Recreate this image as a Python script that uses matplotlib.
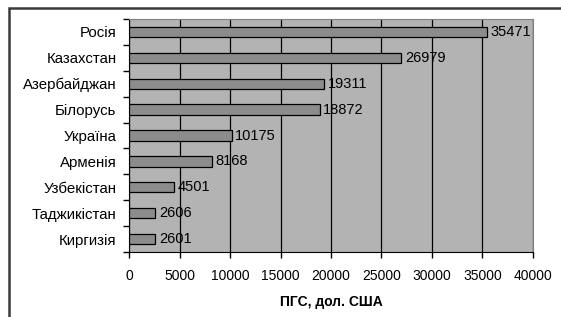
import matplotlib.pyplot as plt
import matplotlib.patches as mpatches
import numpy as np

plt.rcParams['font.family'] = ['Liberation Sans', 'DejaVu Sans']

countries = ['Росія', 'Казахстан', 'Азербайджан', 'Білорусь', 'Україна',
             'Арменія', 'Узбекістан', 'Таджикістан', 'Киргизія']
values = [35471, 26979, 19311, 18872, 10175, 8168, 4501, 2606, 2601]
xticks = [0, 5000, 10000, 15000, 20000, 25000, 30000, 35000, 40000]

fig = plt.figure(figsize=(5.61, 3.17), dpi=100)
ax = fig.add_axes([0.23, 0.205, 0.72, 0.735])

# outer frame (cut by the image edge on the right and bottom)
frame = mpatches.Rectangle((9 / 561, -0.1), 1.2, 1 - 8 / 317 + 0.1,
                           transform=fig.transFigure, fill=False,
                           edgecolor='#3a3a3a', linewidth=1.8, zorder=0)
fig.patches.append(frame)

y = np.arange(len(countries))[::-1]
ax.set_facecolor('#b3b3b3')
ax.barh(y, values, height=0.4, color='#8c8c8c', edgecolor='black',
        linewidth=0.9, zorder=3)
for yi, v in zip(y, values):
    ax.text(v + 350, yi, str(v), va='center', ha='left', fontsize=10.5, zorder=0.3)

ax.set_xlim(0, 40000)
ax.set_ylim(-0.5, len(countries) - 0.5)
ax.set_xticks(xticks)
ax.set_xticklabels([str(t) for t in xticks], fontsize=10)
ax.set_yticks(y)
ax.set_yticklabels(countries, fontsize=10.8)
ax.set_yticks(np.arange(len(countries) + 1) - 0.5, minor=True)
ax.tick_params(axis='y', which='major', length=0, pad=9)
ax.tick_params(axis='y', which='minor', length=4, width=1)
ax.tick_params(axis='x', length=4, width=1, pad=8)
ax.grid(axis='x', color='black', linewidth=0.9, zorder=0.5)
ax.set_axisbelow(True)

for s in ['top', 'right']:
    ax.spines[s].set_color('#808080')
for s in ['left', 'bottom']:
    ax.spines[s].set_color('black')

ax.set_xlabel('ПГС, дол. США', fontsize=10, fontweight='bold', labelpad=9)

fig.savefig('out.png', dpi=100, facecolor='white')
